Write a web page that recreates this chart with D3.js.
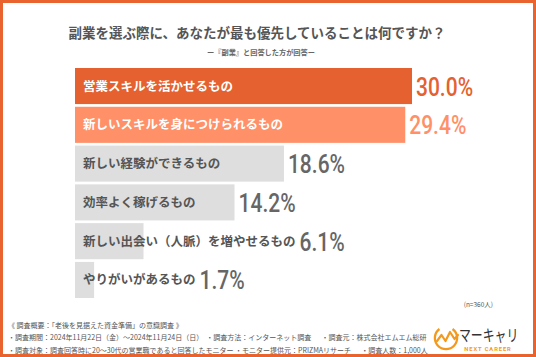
<!DOCTYPE html>
<html><head><meta charset="utf-8">
<script src="https://cdn.jsdelivr.net/npm/d3@7"></script>
<style>
html,body{margin:0;padding:0;background:#fff;}
svg{display:block;}
</style></head>
<body>
<script>
const categories = ["営業スキルを活かせるもの","新しいスキルを身につけられるもの","新しい経験ができるもの","効率よく稼げるもの","新しい出会い（人脈）を増やせるもの","やりがいがあるもの"];
const values = [30.0, 29.4, 18.6, 14.2, 6.1, 1.7];
const valueLabels = ["30.0%","29.4%","18.6%","14.2%","6.1%","1.7%"];
const barColors = ["#E5612F","#FF9068","#DEDEDE","#DEDEDE","#DEDEDE","#DEDEDE"];
const labelColors = ["#ffffff","#ffffff","#555555","#555555","#555555","#555555"];
const valueColors = ["#E5612F","#FF9068","#666666","#666666","#666666","#666666"];
const title = "副業を選ぶ際に、あなたが最も優先していることは何ですか？";
const subtitle = "ー『副業』と回答した方が回答ー";
const nNote = "(n=360人)";
const footer = [
  "《 調査概要：「老後を見据えた資金準備」の意識調査 》",
  "・調査期間：2024年11月22日（金）～2024年11月24日（日）  ・調査方法：インターネット調査　  ・調査元：株式会社エムエム総研",
  "・調査対象：調査回答時に20～30代の営業職であると回答したモニター ・モニター提供元：PRIZMAリサーチ　  ・調査人数：1,000人"
];

const W = 536, H = 357;
const svg = d3.select("body").append("svg").attr("width", W).attr("height", H);
const JP = "'Noto Sans CJK JP','Noto Sans',sans-serif";

svg.append("rect").attr("x",1.5).attr("y",1.5).attr("width",W-3).attr("height",H-3)
  .attr("fill","#fff").attr("stroke","#E9632E").attr("stroke-width",3);

svg.append("text").attr("x",257).attr("y",38).attr("text-anchor","middle")
  .attr("font-family",JP).attr("font-weight",700).attr("font-size",13.5).attr("fill","#555")
  .text(title);
svg.append("text").attr("x",261).attr("y",55).attr("text-anchor","middle")
  .attr("font-family",JP).attr("font-weight",700).attr("font-size",7.2).attr("fill","#666")
  .text(subtitle);

const x = d3.scaleLinear().domain([0,30]).range([75,412]);
const y = d3.scaleBand().domain(categories).range([68,298]).paddingInner(0.07).paddingOuter(0);

const g = svg.append("g");
g.selectAll("rect.bar").data(categories).join("rect").attr("class","bar")
  .attr("x",x(0)).attr("y",d=>y(d)).attr("height",y.bandwidth())
  .attr("width",(d,i)=>x(values[i])-x(0)).attr("fill",(d,i)=>barColors[i]);

const lab = g.selectAll("text.lab").data(categories).join("text").attr("class","lab")
  .attr("x",x(0)+8).attr("y",d=>y(d)+y.bandwidth()/2+4.5)
  .attr("font-family",JP).attr("font-weight",700).attr("font-size",12.5)
  .attr("fill",(d,i)=>labelColors[i]).text(d=>d);

lab.each(function(d,i){
  const lw = this.getComputedTextLength();
  const endLabel = x(0)+8+lw;
  const endBar = x(values[i]);
  const vx = Math.max(endLabel, endBar) + 4;
  const cy = y(d)+y.bandwidth()/2;
  g.append("text").attr("transform",`translate(${vx},${cy+9.5}) scale(0.84,1)`)
    .attr("font-family","Roboto,'DejaVu Sans Condensed',sans-serif").attr("font-weight",500)
    .attr("font-size",25).attr("fill",valueColors[i]).text(valueLabels[i]);
});

svg.append("text").attr("x",493).attr("y",307).attr("text-anchor","end")
  .attr("font-family",JP).attr("font-size",6.5).attr("fill","#555").text(nNote);

footer.forEach((t,i)=>{
  svg.append("text").attr("x",8).attr("y",328+i*12.3)
    .attr("font-family",JP).attr("font-size",7).attr("fill","#555")
    .attr("xml:space","preserve").text(t);
});

// logo
const lg = svg.append("g");
const arc = d3.arc().innerRadius(10).outerRadius(12.3).startAngle(Math.PI*0.2).endAngle(Math.PI*1.8);
lg.append("path").attr("d",arc()).attr("transform","translate(446,338)").attr("fill","#F39A1E");
lg.append("path").attr("d","M437,341 L441.5,335 L445.5,341 L450,332 L454.5,339 L458,335")
  .attr("fill","none").attr("stroke","#F39A1E").attr("stroke-width",2.2)
  .attr("stroke-linejoin","round").attr("stroke-linecap","round");
lg.append("text").attr("transform","translate(459,341) scale(0.95,1.3)").attr("font-family",JP).attr("font-size",12.5)
  .attr("fill","#333").text("マーキャリ");
lg.append("text").attr("x",488).attr("y",351).attr("text-anchor","middle")
  .attr("font-family","Roboto,sans-serif").attr("font-weight",700).attr("font-size",5.8)
  .attr("letter-spacing",0.9).attr("fill","#F39A1E").text("NEXT CAREER");
</script>
</body></html>
